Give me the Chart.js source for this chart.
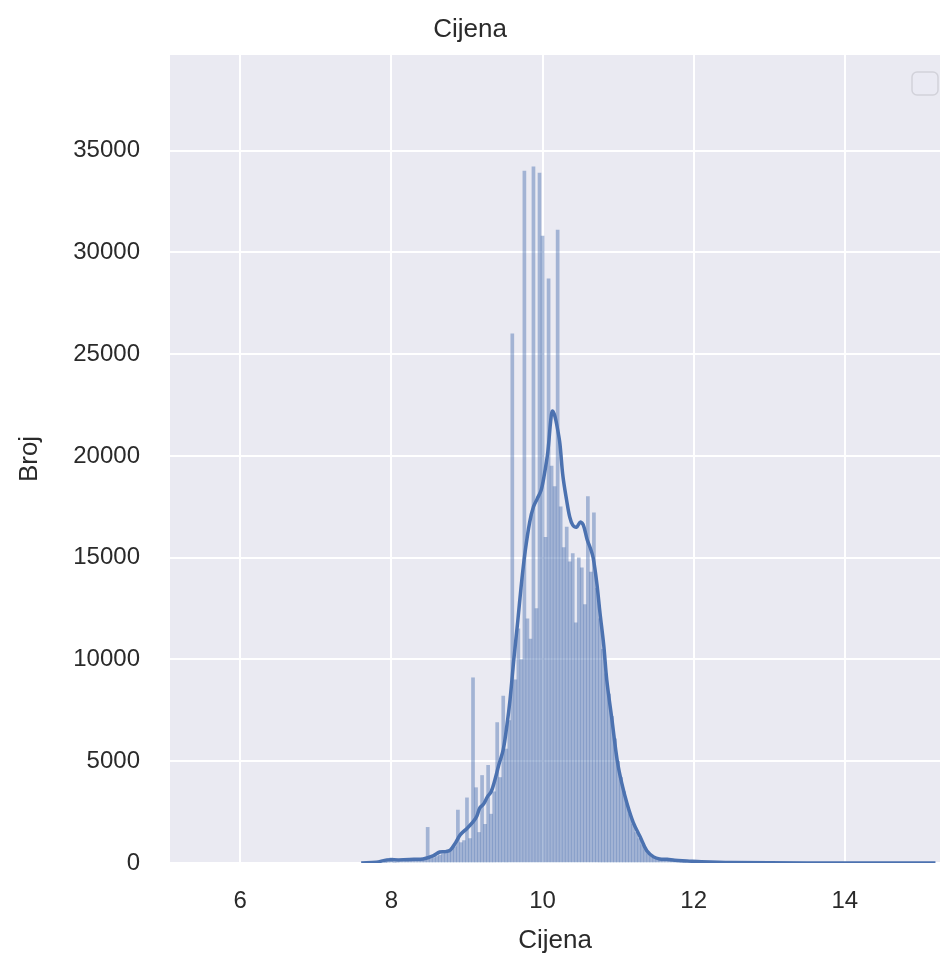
<!DOCTYPE html>
<html>
<head>
<meta charset="utf-8">
<script src="https://cdn.jsdelivr.net/npm/chart.js@4.4.1/dist/chart.umd.min.js"></script>
<style>
  html, body { margin: 0; padding: 0; background: #ffffff; }
  #wrap { width: 940px; height: 956px; }
</style>
</head>
<body>
<div id="wrap"><canvas id="chart1" width="940" height="956"></canvas></div>
<script>
// Histogram bins (bin centres, width 0.04) and counts.
const binStart = 7.92;
const binWidth = 0.04;
const binCounts = [
  20, 40, 250, 30, 40, 50, 60, 80, 90, 100,
  120, 140, 160, 180, 1750, 220, 260, 320, 380, 450,
  520, 600, 700, 800, 2600, 1000, 1100, 3200, 1200, 9100,
  3700, 1500, 4300, 1900, 4800, 2400, 3500, 6900, 4200, 8200,
  5600, 7000, 26000, 9000, 11500, 10000, 34000, 12000, 11000, 34200,
  12500, 33900, 30800, 16000, 28700, 19500, 18500, 31100, 17500, 15500,
  16500, 14800, 15200, 11800, 15000, 14500, 12700, 18000, 14300, 17200,
  13500, 12000, 10500, 9300, 8300, 7200, 6100, 5000, 4200, 3500,
  2900, 2400, 1900, 1500, 1200, 900, 650, 450, 330, 250,
  190, 150, 130, 150, 120, 90, 70, 50, 40, 30
];

// KDE curve points (x, count)
const kdeX = [
  7.6, 7.8, 7.94, 8.1, 8.3, 8.42, 8.55, 8.64, 8.72, 8.78,
  8.85, 8.91, 9.0, 9.08, 9.13, 9.17, 9.22, 9.27, 9.32, 9.37,
  9.42, 9.48, 9.53, 9.57, 9.62, 9.67, 9.72, 9.77, 9.83, 9.88,
  9.93, 9.98, 10.02, 10.07, 10.11, 10.13, 10.16, 10.2, 10.23, 10.27,
  10.32, 10.36, 10.4, 10.45, 10.5, 10.54, 10.59, 10.63, 10.67, 10.72,
  10.76, 10.81, 10.85, 10.92, 10.99, 11.05, 11.12, 11.2, 11.29, 11.38,
  11.47, 11.55, 11.65, 11.75, 11.91, 12.1, 12.5, 13.5, 15.2
];
const kdeY = [
  0, 40, 150, 150, 180, 200, 350, 540, 560, 640,
  1000, 1380, 1700, 2020, 2300, 2710, 2900, 3250, 3500, 4090,
  4800, 5570, 6800, 8030, 10000, 11800, 13700, 15300, 16750, 17500,
  17900, 18300, 19000, 20200, 21800, 22200, 22000, 21300, 20600, 19000,
  17800, 17000, 16600, 16500, 16750, 16600, 15900, 15500, 15000, 13700,
  12300, 10700, 9000, 7000, 5000, 3900, 2900, 2000, 1300, 600,
  300, 200, 180, 130, 100, 60, 20, 5, 0
];

const xTicks = [6, 8, 10, 12, 14];
const yTicks = [0, 5000, 10000, 15000, 20000, 25000, 30000, 35000];

const textColor = '#2a2a2a';
const fontFamily = "'Liberation Sans', Arial, sans-serif";

// Plot background, seaborn darkgrid style
const plotBackground = {
  id: 'plotBackground',
  beforeDraw(chart) {
    const { ctx, chartArea } = chart;
    ctx.save();
    ctx.fillStyle = '#eaeaf2';
    ctx.fillRect(chartArea.left, chartArea.top, chartArea.right - chartArea.left, chartArea.bottom - chartArea.top);
    ctx.restore();
  }
};

// Empty legend frame in the upper right corner
const emptyLegend = {
  id: 'emptyLegend',
  afterDraw(chart) {
    const { ctx, chartArea } = chart;
    const w = 26, h = 23;
    const x = chartArea.right - w - 2;
    const y = chartArea.top + 17;
    ctx.save();
    ctx.beginPath();
    ctx.roundRect(x, y, w, h, 5);
    ctx.fillStyle = 'rgba(234,234,242,0.8)';
    ctx.fill();
    ctx.strokeStyle = '#d2d2da';
    ctx.lineWidth = 1.5;
    ctx.stroke();
    ctx.restore();
  }
};

const histData = binCounts.map((c, i) => ({ x: +(binStart + i * binWidth).toFixed(2), y: c }));
const kdeData = kdeX.map((x, i) => ({ x: x, y: kdeY[i] }));

const ctx = document.getElementById('chart1').getContext('2d');
const chart1 = new Chart(ctx, {
  type: 'bar',
  data: {
    datasets: [
      {
        type: 'line',
        data: kdeData,
        borderColor: '#4c72b0',
        borderWidth: 3.5,
        pointRadius: 0,
        tension: 0.35,
        fill: false,
        order: 1,
      },
      {
        type: 'bar',
        data: histData,
        backgroundColor: 'rgba(76,114,176,0.46)',
        borderWidth: 0,
        barPercentage: 1.0,
        categoryPercentage: 1.0,
        order: 2,
      },
    ],
  },
  options: {
    responsive: false,
    animation: false,
    layout: { padding: { left: 0, right: 0, top: 0, bottom: 0 } },
    scales: {
      x: {
        type: 'linear',
        min: 5.07,
        max: 15.26,
        offset: false,
        afterFit(scale) { scale.height = 93; },
        afterBuildTicks(scale) { scale.ticks = xTicks.map(v => ({ value: v })); },
        grid: { color: '#ffffff', lineWidth: 2, drawTicks: false, offset: false },
        border: { display: false },
        ticks: {
          color: textColor,
          font: { family: fontFamily, size: 24 },
          padding: 24,
          maxRotation: 0,
          callback: v => String(v),
        },
        title: {
          display: true,
          text: 'Cijena',
          color: textColor,
          font: { family: fontFamily, size: 26 },
          padding: { top: 0, bottom: 0 },
        },
      },
      y: {
        type: 'linear',
        min: 0,
        max: 39700,
        afterFit(scale) { scale.width = 170; },
        afterBuildTicks(scale) { scale.ticks = yTicks.map(v => ({ value: v })); },
        grid: { color: '#ffffff', lineWidth: 2, drawTicks: false },
        border: { display: false },
        ticks: {
          color: textColor,
          font: { family: fontFamily, size: 24 },
          padding: 30,
          callback: v => String(v),
        },
        title: {
          display: true,
          text: 'Broj',
          color: textColor,
          font: { family: fontFamily, size: 26 },
          padding: { top: 14, bottom: 0 },
        },
      },
    },
    plugins: {
      legend: { display: false },
      tooltip: { enabled: false },
      title: {
        display: true,
        text: 'Cijena',
        color: textColor,
        font: { family: fontFamily, size: 26, weight: 'normal' },
        padding: { top: 14, bottom: 9.8 },
      },
    },
  },
  plugins: [plotBackground, emptyLegend],
});
</script>
</body>
</html>
